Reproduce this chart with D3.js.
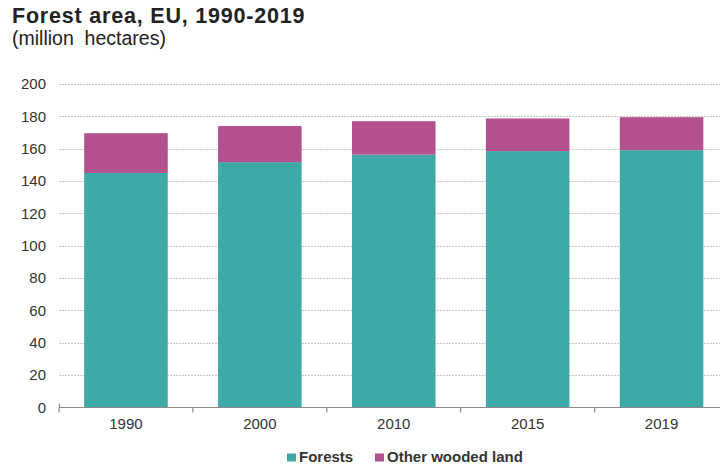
<!DOCTYPE html>
<html>
<head>
<meta charset="utf-8">
<script src="https://cdn.jsdelivr.net/npm/d3@7"></script>
<style>
  html, body { margin: 0; padding: 0; background: #fff; }
  svg { display: block; font-family: "Liberation Sans", Arial, sans-serif; }
</style>
</head>
<body>
<svg id="chart" width="720" height="466"></svg>
<script>
// Forest area in the EU, million hectares
const years = ["1990", "2000", "2010", "2015", "2019"];
const forests = [145.0, 151.7, 156.3, 158.5, 159.1];
const otherWoodedLand = [24.6, 22.3, 20.7, 20.2, 20.4];
const yTicks = [0, 20, 40, 60, 80, 100, 120, 140, 160, 180, 200];
const seriesNames = ["Forests", "Other wooded land"];
const seriesColors = ["#3ea9a7", "#b3508e"];

const svg = d3.select("#chart");

const x = d3.scaleBand()
  .domain(years)
  .range([59, 728.5])
  .paddingInner(0.376)
  .paddingOuter(0.188);

const y = d3.scaleLinear().domain([0, 200]).range([407.5, 84]);

// Title
svg.append("text")
  .attr("x", 12).attr("y", 23)
  .attr("font-size", 21.5).attr("font-weight", "bold")
  .attr("letter-spacing", 0.8)
  .attr("fill", "#222")
  .text("Forest area, EU, 1990-2019");
svg.append("text")
  .attr("x", 12).attr("y", 45)
  .attr("font-size", 19.5)
  .attr("fill", "#222")
  .style("white-space", "pre")
  .text("(million  hectares)");

// Horizontal gridlines
svg.append("g")
  .selectAll("line")
  .data(yTicks.filter(d => d > 0))
  .join("line")
  .attr("x1", 59).attr("x2", 720)
  .attr("y1", d => Math.round(y(d)) + 0.5)
  .attr("y2", d => Math.round(y(d)) + 0.5)
  .attr("stroke", "#c6c6c6")
  .attr("stroke-width", 1)
  .attr("stroke-dasharray", "2,1");

// Y tick labels
svg.append("g")
  .selectAll("text")
  .data(yTicks)
  .join("text")
  .attr("x", 46)
  .attr("y", d => y(d))
  .attr("dy", "0.35em")
  .attr("text-anchor", "end")
  .attr("font-size", 15)
  .attr("fill", "#333")
  .text(d => d);

// Stacked bars
const rows = years.map((yr, i) => ({ year: yr, Forests: forests[i], "Other wooded land": otherWoodedLand[i] }));
const stack = d3.stack().keys(seriesNames)(rows);

svg.append("g")
  .selectAll("g")
  .data(stack)
  .join("g")
  .attr("fill", (d, i) => seriesColors[i])
  .selectAll("rect")
  .data(d => d)
  .join("rect")
  .attr("x", d => x(d.data.year))
  .attr("width", x.bandwidth())
  .attr("y", d => y(d[1]))
  .attr("height", d => y(d[0]) - y(d[1]));

// X axis with ticks at category boundaries
const xAxis = svg.append("g").attr("transform", "translate(0,407.5)");
xAxis.append("line")
  .attr("x1", 59).attr("x2", 720)
  .attr("stroke", "#8a8a8a").attr("stroke-width", 1.2);
const boundaries = years.map(yr => x(yr) - x.step() * x.paddingOuter());
xAxis.selectAll("line.tick")
  .data(boundaries)
  .join("line")
  .attr("class", "tick")
  .attr("x1", d => d).attr("x2", d => d)
  .attr("y1", 0).attr("y2", 5)
  .attr("stroke", "#8a8a8a").attr("stroke-width", 1.2);
xAxis.append("line")
  .attr("x1", 59.5).attr("x2", 59.5)
  .attr("y1", -4).attr("y2", 0)
  .attr("stroke", "#8a8a8a").attr("stroke-width", 1.2);
xAxis.selectAll("text")
  .data(years)
  .join("text")
  .attr("x", d => x(d) + x.bandwidth() / 2)
  .attr("y", 21.5)
  .attr("text-anchor", "middle")
  .attr("font-size", 15)
  .attr("fill", "#333")
  .text(d => d);

// Legend
const legendX = [287, 375];
const legend = svg.append("g")
  .selectAll("g")
  .data(seriesNames)
  .join("g")
  .attr("transform", (d, i) => `translate(${legendX[i]},453)`);
legend.append("rect")
  .attr("width", 9).attr("height", 8)
  .attr("y", 0.5)
  .attr("fill", (d, i) => seriesColors[i]);
legend.append("text")
  .attr("x", 12).attr("y", 8.5)
  .attr("font-size", 15).attr("font-weight", "bold")
  .attr("fill", "#333")
  .text(d => d);
</script>
</body>
</html>
